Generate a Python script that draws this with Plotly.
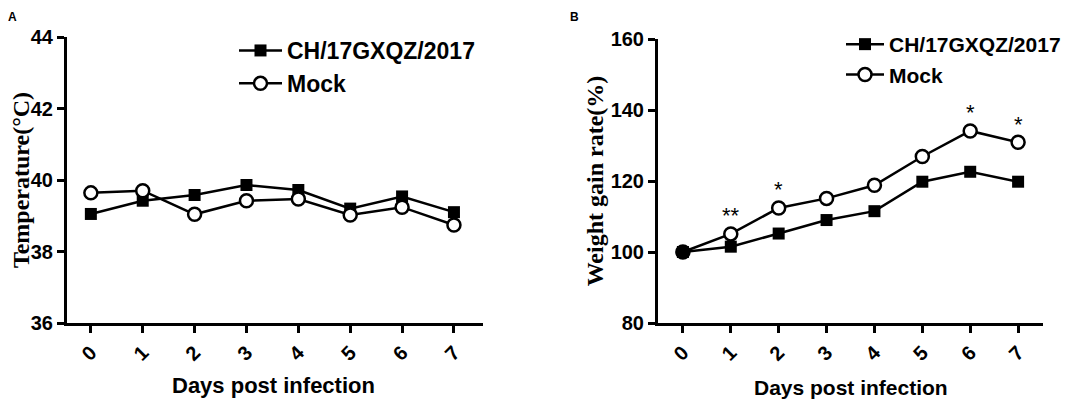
import plotly.graph_objects as go
from plotly.subplots import make_subplots

days = [0, 1, 2, 3, 4, 5, 6, 7]
temp_ch = [39.05, 39.42, 39.58, 39.86, 39.72, 39.2, 39.54, 39.1]
temp_mock = [39.64, 39.7, 39.04, 39.42, 39.47, 39.02, 39.24, 38.74]
wg_ch = [100.0, 101.5, 105.2, 109.0, 111.5, 119.8, 122.6, 119.8]
wg_mock = [100.0, 105.1, 112.4, 115.1, 118.8, 126.9, 134.1, 130.9]
star_days = [1, 2, 6, 7]
star_labels = ["**", "*", "*", "*"]

SANS = "Liberation Sans, Arial, sans-serif"
SERIF = "Liberation Serif, Times New Roman, serif"
W, H = 1084, 401
OFF = 8  # page body margin shifts the figure by 8px


def px_x(p):
    return (p - OFF) / W


def px_y(p):
    return 1 - (p - OFF) / H


fig = make_subplots(rows=1, cols=2)


def add_pair(ch, mock, col, legend):
    fig.add_trace(go.Scatter(
        x=days, y=ch, name="CH/17GXQZ/2017", mode="lines+markers",
        line=dict(color="black", width=2.5),
        marker=dict(symbol="square", size=12, color="black"),
        legend=legend), row=1, col=col)
    fig.add_trace(go.Scatter(
        x=days, y=mock, name="Mock", mode="lines+markers",
        line=dict(color="black", width=2.5),
        marker=dict(symbol="circle", size=13, color="white",
                    line=dict(color="black", width=2.5)),
        legend=legend), row=1, col=col)


add_pair(temp_ch, temp_mock, 1, "legend")
add_pair(wg_ch, wg_mock, 2, "legend2")
# day 0 of panel B: both groups sit at 100%, drawn as a solid dot
fig.add_trace(go.Scatter(
    x=days[:1], y=wg_mock[:1], mode="markers", showlegend=False,
    marker=dict(symbol="circle", size=14, color="black")), row=1, col=2)

for d, s in zip(star_days, star_labels):
    fig.add_annotation(x=d, y=wg_mock[days.index(d)], xref="x2", yref="y2",
                       text=s, showarrow=False, yshift=18,
                       font=dict(family=SANS, size=22, color="black"))

axis_common = dict(showline=True, linecolor="black", linewidth=3,
                   ticks="outside", tickcolor="black", tickwidth=3, ticklen=7,
                   showgrid=False, zeroline=False, automargin=False,
                   tickfont=dict(family=SANS, size=20, color="black",
                                 weight="bold"))
ytitle_font = dict(family=SERIF, size=24, color="black", weight="bold")

fig.update_xaxes(**axis_common, tickmode="array", tickvals=days, tickangle=-45)
fig.update_yaxes(**axis_common)
fig.update_xaxes(domain=[px_x(67), px_x(483)], range=[-0.46, 7.56],
                 row=1, col=1)
fig.update_xaxes(domain=[px_x(658), px_x(1043)], range=[-0.52, 7.52],
                 row=1, col=2)
fig.update_yaxes(domain=[px_y(323), px_y(37)], range=[36, 44], dtick=2,
                 title=dict(text="Temperature(°C)", font=ytitle_font,
                            standoff=13),
                 row=1, col=1)
fig.update_yaxes(domain=[px_y(323), px_y(39)], range=[80, 160], dtick=20,
                 title=dict(text="Weight gain rate(%)", font=ytitle_font,
                            standoff=1),
                 row=1, col=2)

titles = [
    dict(text="<b>Days post infection</b>", x=px_x(273), y=px_y(385),
         font=dict(family=SANS, size=22)),
    dict(text="<b>Days post infection</b>", x=px_x(851), y=px_y(387),
         font=dict(family=SANS, size=21)),
    dict(text="<b>A</b>", x=px_x(12), y=px_y(17),
         font=dict(family=SANS, size=12)),
    dict(text="<b>B</b>", x=px_x(574), y=px_y(17),
         font=dict(family=SANS, size=12)),
]
for t in titles:
    t["font"]["color"] = "black"
    fig.add_annotation(xref="paper", yref="paper", showarrow=False,
                       xanchor="center", yanchor="middle", **t)

legend_common = dict(bgcolor="rgba(0,0,0,0)", borderwidth=0,
                     xanchor="left", yanchor="top", tracegroupgap=0)
fig.update_layout(
    width=W, height=H,
    margin=dict(l=0, r=0, t=0, b=0),
    paper_bgcolor="white", plot_bgcolor="white",
    legend=dict(x=px_x(234), y=px_y(29), itemwidth=43,
                font=dict(family=SANS, size=23, color="black", weight="bold"),
                **legend_common),
    legend2=dict(x=px_x(841), y=px_y(24), itemwidth=38,
                 font=dict(family=SANS, size=21, color="black", weight="bold"),
                 **legend_common),
)

fig.write_html("out.html")
